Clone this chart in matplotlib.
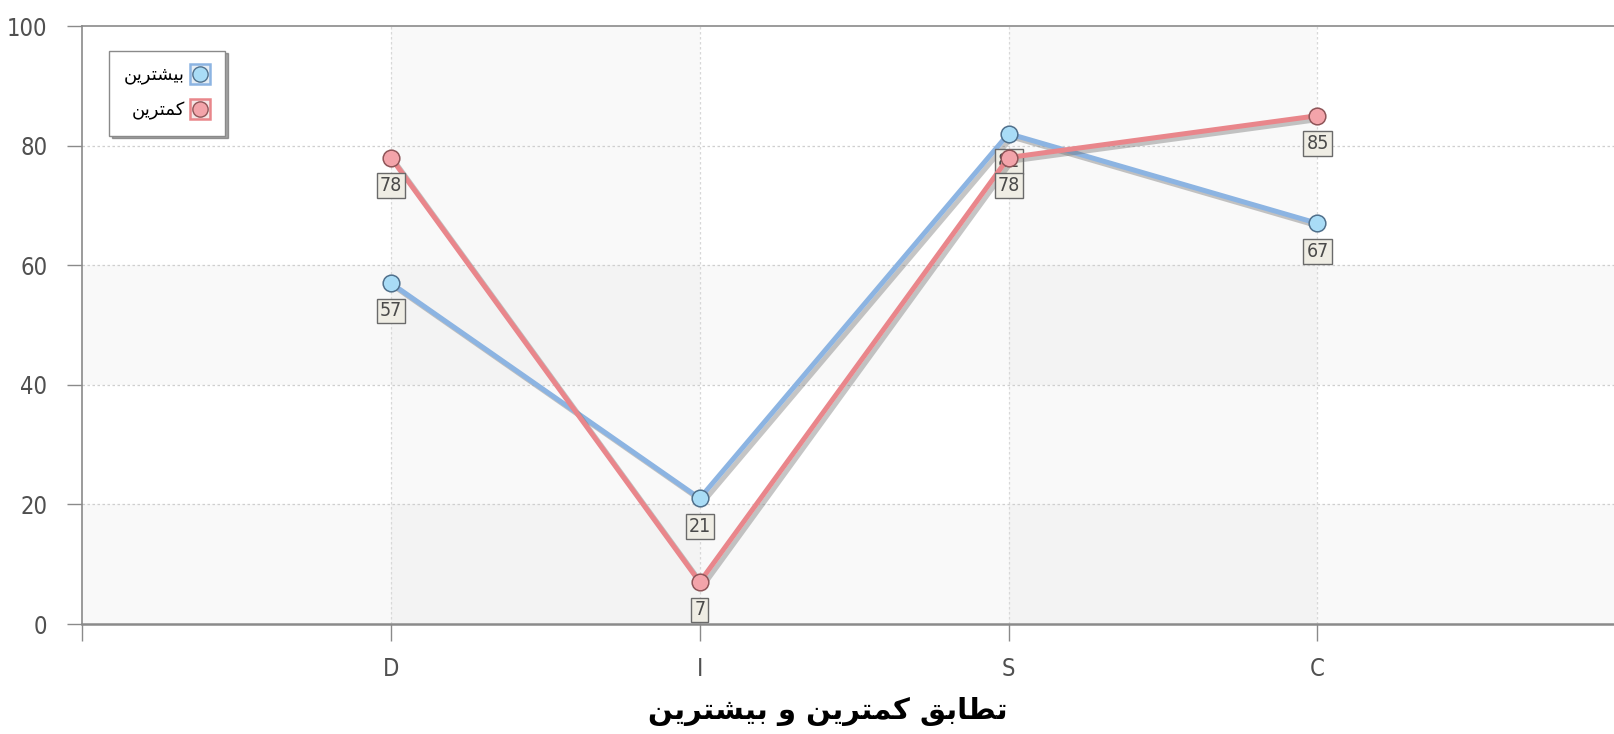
import matplotlib
matplotlib.use("Agg")
import matplotlib.pyplot as plt
import matplotlib.patheffects as pe
from matplotlib.lines import Line2D
from matplotlib.font_manager import FontProperties

# ---------------- data ----------------
categories = ["D", "I", "S", "C"]
most_values = [57, 21, 82, 67]     # بیشترین
least_values = [78, 7, 78, 85]     # کمترین
y_ticks = [0, 20, 40, 60, 80, 100]
title_text = "تطابق کمترین و بیشترین"
most_label = "بیشترین"
least_label = "کمترین"

# ------------- minimal Arabic/Persian shaping -------------
FORMS = {  # isolated, final, initial, medial
    "ت": ("\uFE95", "\uFE96", "\uFE97", "\uFE98"),
    "ط": ("\uFEC1", "\uFEC2", "\uFEC3", "\uFEC4"),
    "ا": ("\uFE8D", "\uFE8E", None, None),
    "ب": ("\uFE8F", "\uFE90", "\uFE91", "\uFE92"),
    "ق": ("\uFED5", "\uFED6", "\uFED7", "\uFED8"),
    "ک": ("\uFB8E", "\uFB8F", "\uFB90", "\uFB91"),
    "م": ("\uFEE1", "\uFEE2", "\uFEE3", "\uFEE4"),
    "ر": ("\uFEAD", "\uFEAE", None, None),
    "ی": ("\uFBFC", "\uFBFD", "\uFBFE", "\uFBFF"),
    "ن": ("\uFEE5", "\uFEE6", "\uFEE7", "\uFEE8"),
    "و": ("\uFEED", "\uFEEE", None, None),
    "ش": ("\uFEB5", "\uFEB6", "\uFEB7", "\uFEB8"),
}


def joins_left(ch):
    return ch in FORMS and FORMS[ch][2] is not None


def shape(text):
    out = []
    for i, ch in enumerate(text):
        if ch not in FORMS:
            out.append(ch)
            continue
        prev = text[i - 1] if i > 0 else ""
        nxt = text[i + 1] if i + 1 < len(text) else ""
        from_prev = joins_left(prev)
        to_next = joins_left(ch) and nxt in FORMS
        iso, fin, ini, med = FORMS[ch]
        if from_prev and to_next:
            out.append(med)
        elif from_prev:
            out.append(fin)
        elif to_next:
            out.append(ini)
        else:
            out.append(iso)
    return "".join(out)[::-1]


# ---------------- figure ----------------
W, H, DPI = 1614, 734, 100
fig = plt.figure(figsize=(W / DPI, H / DPI), dpi=DPI)
fig.patch.set_facecolor("white")
ax = fig.add_axes([82 / W, 1 - 624 / H, 1 - 82 / W, (624 - 26) / H])

x = list(range(len(categories)))
ax.set_xlim(-1, 3.96)
ax.set_ylim(0, 100)

# alternating background bands
for lo in (0, 40):
    ax.axhspan(lo, lo + 20, color="#000000", alpha=0.022, lw=0, zorder=0)
for xs in (0, 2):
    ax.axvspan(xs, xs + 1, color="#000000", alpha=0.025, lw=0, zorder=0)

# grid
for yv in y_ticks[1:-1]:
    ax.axhline(yv, color="#cfcfcf", lw=0.9, ls=(0, (2, 2)), zorder=1)
for xv in x:
    ax.axvline(xv, color="#d8d8d8", lw=0.9, ls=(0, (2, 2)), zorder=1)

# spines
for s in ("left", "bottom", "top"):
    ax.spines[s].set_color("#8a8a8a")
ax.spines["bottom"].set_linewidth(1.8)
ax.spines["left"].set_linewidth(1.2)
ax.spines["top"].set_linewidth(1.2)
ax.spines["right"].set_visible(False)

ax.set_yticks(y_ticks)
ax.set_yticklabels([str(v) for v in y_ticks])
ax.set_xticks([-1] + x)
ax.set_xticklabels([""] + categories)
tick_fp = FontProperties(family="DejaVu Sans", stretch="condensed", size=17)
for lab in ax.get_yticklabels() + ax.get_xticklabels():
    lab.set_fontproperties(tick_fp)
    lab.set_color("#505050")
ax.tick_params(axis="y", direction="out", length=11, width=1, color="#8a8a8a", pad=14)
ax.tick_params(axis="x", direction="out", length=12, width=1, color="#8a8a8a", pad=12)

shadow = [pe.SimpleLineShadow(offset=(2.5, -2.5), shadow_color="#6f6f6f", alpha=0.4), pe.Normal()]
label_fp = FontProperties(family="DejaVu Sans", stretch="condensed", size=14)


def draw_series(vals, line_c, face_c, edge_c, z):
    ax.plot(x, vals, color=line_c, lw=3.6, zorder=z, path_effects=shadow,
            solid_joinstyle="round", solid_capstyle="round")
    ax.plot(x, vals, ls="none", marker="o", ms=12, mfc=face_c, mec=edge_c,
            mew=1.1, zorder=z + 1)
    for xi, v in zip(x, vals):
        ax.annotate(str(v), (xi, v), xytext=(0, -20), textcoords="offset points",
                    ha="center", va="center", fontproperties=label_fp, color="#4a4a4a",
                    zorder=z + 2,
                    bbox=dict(boxstyle="square,pad=0.15", fc="#efede4", ec="#6a6a6a", lw=1.0))


most_style = ("#8cb4e2", "#a9dcf6", "#50708c")
least_style = ("#e9868b", "#f3a4aa", "#8e5558")
draw_series(most_values, *most_style, 3)
draw_series(least_values, *least_style, 6)


def legend_handle(line_c, face_c, edge_c, bg):
    sq = Line2D([], [], ls="none", marker="s", ms=15, mfc=bg, mec=line_c, mew=1.8)
    ci = Line2D([], [], ls="none", marker="o", ms=11, mfc=face_c, mec=edge_c, mew=1.0)
    return (sq, ci)


leg = ax.legend([legend_handle(*most_style, "#e6eef5"), legend_handle(*least_style, "#f5e6e6")],
                [shape(most_label), shape(least_label)],
                loc="upper left", bbox_to_anchor=(0.0175, 0.959), markerfirst=False,
                frameon=True, fancybox=False, shadow=True,
                prop={"family": ["DejaVu Sans"], "size": 13},
                handlelength=1.0, handletextpad=0.35, borderpad=0.85,
                labelspacing=0.95, borderaxespad=0)
leg.get_frame().set_edgecolor("#8a8a8a")
leg.get_frame().set_linewidth(1.0)
leg.set_zorder(20)

fig.text(828 / W, 1 - 711 / H, shape(title_text),
         ha="center", va="center", fontsize=21, fontweight="bold", color="black",
         family=["DejaVu Sans"])

fig.savefig("out.png", dpi=DPI)
